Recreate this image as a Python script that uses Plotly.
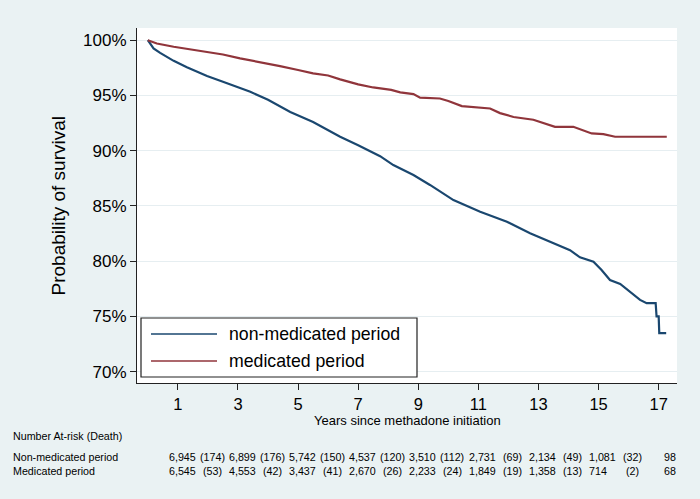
import plotly.graph_objects as go

# ---- data ----
years_nonmed = [0, 0.19, 0.41, 0.86, 1.3, 1.97, 2.5, 3.0, 3.41, 4.0, 4.74, 5.5, 6.4, 7.0,
                7.73, 8.17, 8.84, 9.39, 10.17, 11.06, 11.95, 12.72, 13.5, 14.05, 14.38,
                14.83, 15.1, 15.38, 15.72, 16.05, 16.38, 16.6, 16.9, 16.93, 17.0, 17.02, 17.25]
surv_nonmed = [100, 99.25, 98.85, 98.13, 97.55, 96.75, 96.23, 95.72, 95.33, 94.6, 93.5, 92.6,
               91.26, 90.5, 89.5, 88.7, 87.8, 86.9, 85.53, 84.48, 83.57, 82.52, 81.67, 81.0,
               80.35, 79.96, 79.2, 78.3, 77.94, 77.24, 76.5, 76.2, 76.2, 75.0, 75.0, 73.5, 73.5]

years_med = [0, 0.3, 0.86, 1.5, 1.97, 2.5, 3.07, 3.7, 4.4, 5.0, 5.5, 6.0, 6.4, 7.0, 7.5,
             8.1, 8.4, 8.84, 9.06, 9.72, 10.0, 10.45, 11.39, 11.72, 12.17, 12.83, 13.16,
             13.55, 14.16, 14.77, 15.16, 15.55, 17.27]
surv_med = [100, 99.7, 99.4, 99.15, 98.94, 98.7, 98.35, 98.05, 97.65, 97.3, 96.99, 96.8,
            96.45, 96.0, 95.72, 95.5, 95.27, 95.12, 94.8, 94.72, 94.5, 94.03, 93.82, 93.4,
            93.05, 92.8, 92.5, 92.16, 92.16, 91.56, 91.5, 91.26, 91.26]

series_names = ["non-medicated period", "medicated period"]
x_ticks = [1, 3, 5, 7, 9, 11, 13, 15, 17]
y_ticks = [70, 75, 80, 85, 90, 95, 100]

risk_title = "Number At-risk (Death)"
risk_row_labels = ["Non-medicated period", "Medicated period"]
risk_nonmed_n = ["6,945", "6,899", "5,742", "4,537", "3,510", "2,731", "2,134", "1,081", "98"]
risk_nonmed_d = ["(174)", "(176)", "(150)", "(120)", "(112)", "(69)", "(49)", "(32)", ""]
risk_med_n = ["6,545", "4,553", "3,437", "2,670", "2,233", "1,849", "1,358", "714", "68"]
risk_med_d = ["(53)", "(42)", "(41)", "(26)", "(24)", "(19)", "(13)", "(2)", ""]

# ---- styling ----
BLUE = "#1A476F"
RED = "#90353B"
BG = "#EAF2F3"
FONT = "Liberation Sans, Arial, Helvetica, sans-serif"

W, H = 700, 499
L, R, T, B = 137, 23, 28, 116
PW, PH = W - L - R, H - T - B


def px(xp):
    return (xp - L) / PW


def py(yp):
    return (H - B - yp) / PH


fig = go.Figure()
fig.add_trace(go.Scatter(x=years_nonmed, y=surv_nonmed, mode="lines", name=series_names[0],
                         line=dict(color=BLUE, width=2.2), showlegend=False))
fig.add_trace(go.Scatter(x=years_med, y=surv_med, mode="lines", name=series_names[1],
                         line=dict(color=RED, width=2.2), showlegend=False))

shapes = []
annotations = []

# manual legend (Stata style)
shapes.append(dict(type="rect", xref="paper", yref="paper", x0=px(141), x1=px(417),
                   y0=py(377), y1=py(318), line=dict(color="#222222", width=1.2),
                   fillcolor="white", layer="above"))
for i, (name, col) in enumerate(zip(series_names, [BLUE, RED])):
    yrow = [334, 361][i]
    shapes.append(dict(type="line", xref="paper", yref="paper", x0=px(151), x1=px(217),
                       y0=py(yrow), y1=py(yrow), line=dict(color=col, width=1.6), layer="above"))
    annotations.append(dict(text=name, xref="paper", yref="paper", x=px(227), y=py(yrow),
                            xanchor="left", yanchor="middle", showarrow=False,
                            font=dict(size=17.7, color="black", family=FONT)))

# axis titles
annotations.append(dict(text="Probability of survival", xref="paper", yref="paper",
                        x=px(58), y=0.5, textangle=-90, xanchor="center", yanchor="middle",
                        showarrow=False, font=dict(size=19, color="black", family=FONT)))
annotations.append(dict(text="Years since methadone initiation", xref="paper", yref="paper",
                        x=px(407), y=py(420), xanchor="center", yanchor="middle",
                        showarrow=False, font=dict(size=13, color="black", family=FONT)))

# at-risk table
TF = dict(size=10.7, color="black", family=FONT)
annotations.append(dict(text=risk_title, xref="paper", yref="paper", x=px(11), y=py(436),
                        xanchor="left", yanchor="middle", showarrow=False, font=TF))
n_cols = [167 + 60 * k for k in range(8)] + [662]
for r, (lab, ns, ds) in enumerate(zip(risk_row_labels, [risk_nonmed_n, risk_med_n],
                                       [risk_nonmed_d, risk_med_d])):
    yrow = [457, 471][r]
    annotations.append(dict(text=lab, xref="paper", yref="paper", x=px(11), y=py(yrow),
                            xanchor="left", yanchor="middle", showarrow=False, font=TF))
    for j, (n, d) in enumerate(zip(ns, ds)):
        annotations.append(dict(text=n, xref="paper", yref="paper", x=px(n_cols[j]), y=py(yrow),
                                xanchor="left", yanchor="middle", showarrow=False, font=TF))
        if d:
            annotations.append(dict(text=d, xref="paper", yref="paper", x=px(n_cols[j] + 45),
                                    y=py(yrow), xanchor="center", yanchor="middle",
                                    showarrow=False, font=TF))

fig.update_layout(
    width=W, height=H,
    margin=dict(l=L, r=R, t=T, b=B, pad=0),
    paper_bgcolor=BG, plot_bgcolor="white",
    shapes=shapes, annotations=annotations,
    font=dict(family=FONT, color="black"),
    xaxis=dict(range=[-0.36, 17.61], tickvals=x_ticks, ticktext=[str(v) for v in x_ticks],
               showgrid=False, zeroline=False, showline=True, linecolor="#222222", linewidth=1.2,
               ticks="outside", ticklen=6, tickcolor="#222222", tickwidth=1.2,
               tickfont=dict(size=16.5, family=FONT, color="black")),
    yaxis=dict(range=[68.98, 101.1], tickvals=y_ticks, ticktext=[f"{v}%" for v in y_ticks],
               showgrid=True, gridcolor="#E6EEF1", gridwidth=1, zeroline=False,
               showline=True, linecolor="#222222", linewidth=1.2,
               ticks="outside", ticklen=6, tickcolor="#222222", tickwidth=1.2,
               tickfont=dict(size=17, family=FONT, color="black")),
)

fig.write_html("out.html", config={"displayModeBar": False},
               post_script="document.body.style.margin='0';document.body.style.padding='0';"
                           "document.body.style.overflow='hidden';")
